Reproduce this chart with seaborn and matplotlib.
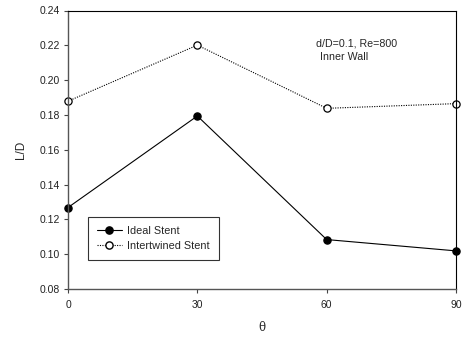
import numpy as np
import pandas as pd
import matplotlib
matplotlib.use("Agg")
import matplotlib.pyplot as plt
import seaborn as sns
from matplotlib.lines import Line2D

# ---------- data ---------- #
theta = [0, 30, 60, 90]
ideal = [0.1268, 0.1794, 0.1084, 0.1019]
intertwined = [0.1879, 0.2201, 0.1838, 0.1865]
series_names = ["Ideal Stent", "Intertwined Stent"]
y_ticks = [0.08, 0.10, 0.12, 0.14, 0.16, 0.18, 0.20, 0.22, 0.24]

df = pd.DataFrame({
    "theta": theta * 2,
    "LD": ideal + intertwined,
    "series": [series_names[0]] * 4 + [series_names[1]] * 4,
})

sns.set_style("ticks")
plt.rcParams["font.family"] = ["Liberation Sans", "DejaVu Sans"]

fig = plt.figure(figsize=(4.69, 3.38), dpi=100)
ax = fig.add_axes([68 / 469, 1 - 289 / 338, (456 - 68) / 469, (289 - 10.5) / 338])

sns.lineplot(data=df, x="theta", y="LD", hue="series", style="series",
             palette=["black", "black"], dashes=[(None, None), (1, 1.2)],
             markers=["o", "o"], markersize=5.2, linewidth=0.8,
             ax=ax, legend=False)

# open markers for intertwined
for ln, fc in zip(ax.get_lines(), ["black", "white"]):
    ln.set_markerfacecolor(fc)
    ln.set_markeredgecolor("black")
    ln.set_markeredgewidth(0.9)
    ln.set_clip_on(False)

ax.set_xlim(0, 90)
ax.set_ylim(0.08, 0.24)
ax.set_xticks(theta)
ax.set_yticks(y_ticks)
ax.set_yticklabels([f"{v:.2f}" for v in y_ticks])
ax.tick_params(labelsize=7.5, length=3, width=0.8, color="#444444", labelcolor="#222222")
ax.tick_params(axis="x", pad=5)
ax.tick_params(axis="y", pad=3)
for side in ["left", "bottom"]:
    ax.spines[side].set_color("#555555")
    ax.spines[side].set_linewidth(1.0)
for side in ["top", "right"]:
    ax.spines[side].set_visible(True)
    ax.spines[side].set_color("black")
    ax.spines[side].set_linewidth(0.8)

ax.set_xlabel("θ", family="DejaVu Serif", fontsize=8.5, labelpad=8)
ax.set_ylabel("L/D", fontsize=8.5, labelpad=9)

ax.text(0.64, 0.872, "d/D=0.1, Re=800", transform=ax.transAxes, fontsize=7.7)
ax.text(0.65, 0.822, "Inner Wall", transform=ax.transAxes, fontsize=7.7)

handles = [
    Line2D([], [], color="black", lw=0.8, marker="o", markersize=5.2,
           markerfacecolor="black", markeredgecolor="black"),
    Line2D([], [], color="black", lw=0.8, ls=(0, (1, 1.2)), marker="o", markersize=5.2,
           markerfacecolor="white", markeredgecolor="black"),
]
leg = ax.legend(handles, series_names, loc="lower left",
                bbox_to_anchor=(0.051, 0.105), fontsize=7.8, frameon=True,
                fancybox=False, edgecolor="black", handlelength=2.3,
                borderpad=0.85, labelspacing=0.4, handletextpad=0.5,
                borderaxespad=0)
leg.get_frame().set_linewidth(0.8)

fig.savefig("out.png", dpi=100)
